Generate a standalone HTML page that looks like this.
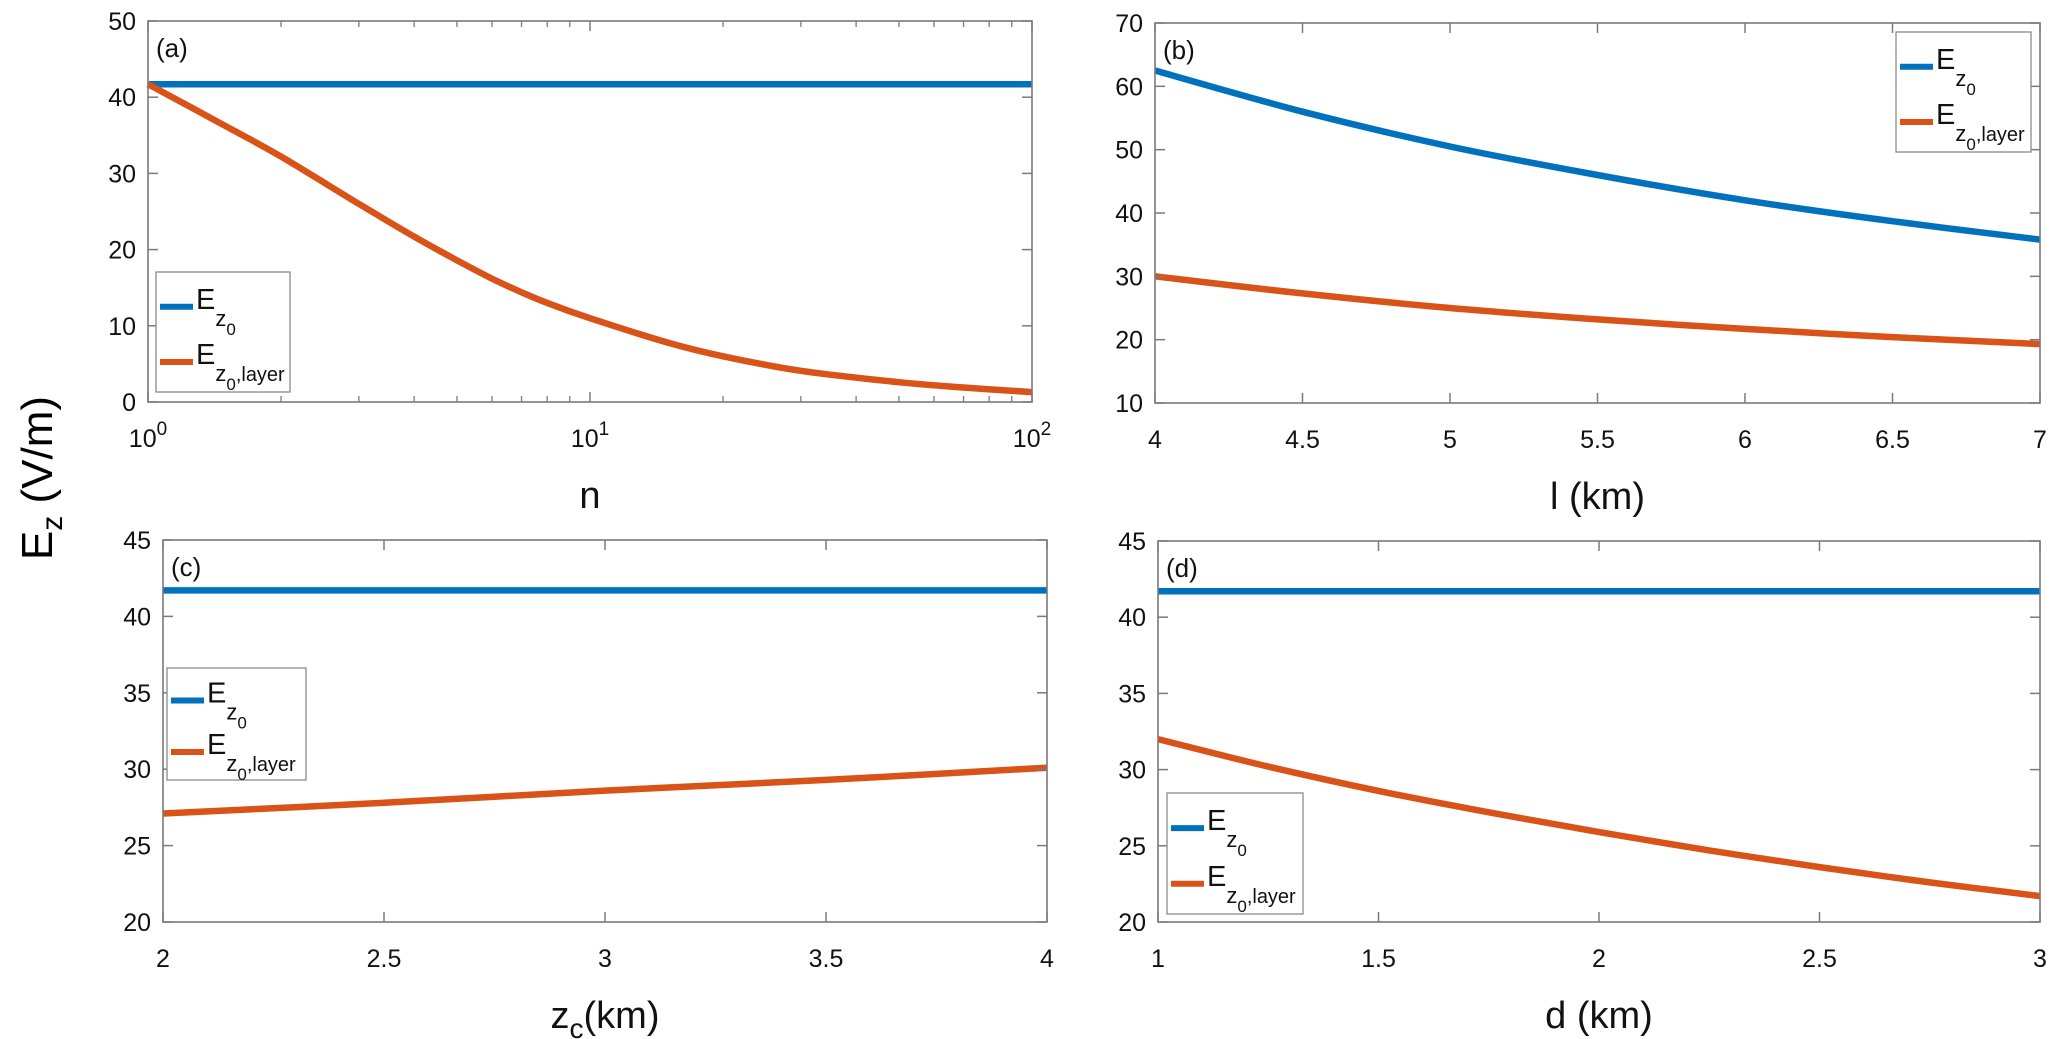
<!DOCTYPE html>
<html><head><meta charset="utf-8"><style>
html,body{margin:0;padding:0;background:#fff;}
svg{display:block;font-family:"Liberation Sans",Arial,sans-serif;}
</style></head><body>
<svg id="fig" width="2067" height="1039" viewBox="0 0 2067 1039" xmlns="http://www.w3.org/2000/svg">
<text transform="translate(52,478) rotate(-90)" text-anchor="middle" font-size="44">E<tspan font-size="30" dy="10">z</tspan><tspan dy="-10"> (V/m)</tspan></text>
</svg>
<script>
// ---- data ----
const aN = [1, 1.5, 2, 3, 4, 5, 6, 7, 8, 10, 15, 20, 30, 50, 70, 100];
const aEz0 = [41.7, 41.7, 41.7, 41.7, 41.7, 41.7, 41.7, 41.7, 41.7, 41.7, 41.7, 41.7, 41.7, 41.7, 41.7, 41.7];
const aLayer = [41.7, 36.2, 32.2, 26.0, 21.7, 18.6, 16.2, 14.4, 13.0, 11.0, 7.8, 6.0, 4.1, 2.6, 1.9, 1.3];
const bL = [4, 4.5, 5, 5.5, 6, 6.5, 7];
const bEz0 = [62.5, 56.0, 50.5, 46.0, 42.0, 38.7, 35.8];
const bLayer = [30.0, 27.3, 25.0, 23.2, 21.7, 20.4, 19.3];
const cZ = [2, 2.5, 3, 3.5, 4];
const cEz0 = [41.7, 41.7, 41.7, 41.7, 41.7];
const cLayer = [27.1, 27.8, 28.6, 29.3, 30.1];
const dD = [1, 1.25, 1.5, 1.75, 2, 2.25, 2.5, 2.75, 3];
const dEz0 = [41.7, 41.7, 41.7, 41.7, 41.7, 41.7, 41.7, 41.7, 41.7];
const dLayer = [32.0, 30.2, 28.6, 27.2, 25.9, 24.7, 23.6, 22.6, 21.7];
const aYTicks = [0, 10, 20, 30, 40, 50];
const bYTicks = [10, 20, 30, 40, 50, 60, 70];
const bXTicks = [4, 4.5, 5, 5.5, 6, 6.5, 7];
const cYTicks = [20, 25, 30, 35, 40, 45];
const cXTicks = [2, 2.5, 3, 3.5, 4];
const dYTicks = [20, 25, 30, 35, 40, 45];
const dXTicks = [1, 1.5, 2, 2.5, 3];
const aXTicks = [1, 10, 100];

const NS = "http://www.w3.org/2000/svg";
const svg = document.getElementById('fig');
const BLUE = "#0072BD", ORANGE = "#D95319", AX = "#7a7a7a";
function mk(tag, attrs, parent) { const e = document.createElementNS(NS, tag); for (const k in attrs) e.setAttribute(k, attrs[k]); (parent || svg).appendChild(e); return e; }

function smoothPath(pts) {
  let d = 'M' + pts[0][0].toFixed(1) + ' ' + pts[0][1].toFixed(1);
  for (let i = 0; i < pts.length - 1; i++) {
    const p0 = pts[Math.max(0, i - 1)], p1 = pts[i], p2 = pts[i + 1], p3 = pts[Math.min(pts.length - 1, i + 2)];
    const c1 = [p1[0] + (p2[0] - p0[0]) / 6, p1[1] + (p2[1] - p0[1]) / 6];
    const c2 = [p2[0] - (p3[0] - p1[0]) / 6, p2[1] - (p3[1] - p1[1]) / 6];
    d += ' C' + c1[0].toFixed(1) + ' ' + c1[1].toFixed(1) + ' ' + c2[0].toFixed(1) + ' ' + c2[1].toFixed(1) + ' ' + p2[0].toFixed(1) + ' ' + p2[1].toFixed(1);
  }
  return d;
}

function panel(cfg) {
  const g = mk('g', {});
  
  
  const {x0, x1, y0, y1} = cfg;
  const fx = cfg.log ? v => x0 + (Math.log10(v) - Math.log10(cfg.xmin)) / (Math.log10(cfg.xmax) - Math.log10(cfg.xmin)) * (x1 - x0)
                     : v => x0 + (v - cfg.xmin) / (cfg.xmax - cfg.xmin) * (x1 - x0);
  const fy = v => y1 - (v - cfg.ymin) / (cfg.ymax - cfg.ymin) * (y1 - y0);
  [[cfg.xs, cfg.s1, BLUE, 'series-ez0'], [cfg.xs, cfg.s2, ORANGE, 'series-ez0-layer']].forEach(([xs, ys, col, nm]) => {
    const pts = xs.map((v, i) => [fx(v), fy(ys[i])]);
    const p = mk('path', {d: smoothPath(pts), fill: 'none', stroke: col, 'stroke-width': 6.5, 'stroke-linejoin': 'round'}, g);
    
    
  });
  const box = mk('rect', {x: x0, y: y0, width: x1 - x0, height: y1 - y0, fill: 'none', stroke: AX, 'stroke-width': 1.6}, g);
  
  
  const TL = 10;
  cfg.yt.forEach(v => {
    const y = fy(v);
    mk('line', {x1: x0, x2: x0 + TL, y1: y, y2: y, stroke: AX, 'stroke-width': 1.5}, g);
    mk('line', {x1: x1, x2: x1 - TL, y1: y, y2: y, stroke: AX, 'stroke-width': 1.5}, g);
    const t = mk('text', {x: x0 - 12, y: y + 9, 'text-anchor': 'end', 'font-size': 25, fill: '#111'}, g);
    t.textContent = v;
    
    
  });
  if (cfg.log) {
    for (let dec = 1; dec < 100; dec *= 10) for (let m = 2; m <= 9; m++) {
      const x = fx(m * dec);
      mk('line', {x1: x, x2: x, y1: y1, y2: y1 - 6, stroke: AX, 'stroke-width': 1.3}, g);
      mk('line', {x1: x, x2: x, y1: y0, y2: y0 + 6, stroke: AX, 'stroke-width': 1.3}, g);
    }
  }
  cfg.xt.forEach((v, i) => {
    const x = fx(v);
    mk('line', {x1: x, x2: x, y1: y1, y2: y1 - TL, stroke: AX, 'stroke-width': 1.5}, g);
    mk('line', {x1: x, x2: x, y1: y0, y2: y0 + TL, stroke: AX, 'stroke-width': 1.5}, g);
    const t = mk('text', {x: x, y: y1 + 45, 'text-anchor': 'middle', 'font-size': 25, fill: '#111'}, g);
    if (cfg.log) { t.innerHTML = '10<tspan dy="-12" font-size="19">' + i + '</tspan>'; }
    else t.textContent = v;
    
    
  });
  const tag = mk('text', {x: x0 + 8, y: y0 + 36, 'font-size': 26, fill: '#111'}, g);
  tag.textContent = '(' + cfg.id + ')';
  
  
  const xl = mk('text', {x: (x0 + x1) / 2, y: y1 + 106, 'text-anchor': 'middle', 'font-size': 38, fill: '#111'}, g);
  xl.innerHTML = cfg.xlabel;
  
  
  const L = cfg.leg;
  const lg = mk('g', {}, g);
  
  
  mk('rect', {x: L[0], y: L[1], width: L[2] - L[0], height: L[3] - L[1], fill: '#fff', stroke: '#8a8a8a', 'stroke-width': 1.3}, lg);
  const h = L[3] - L[1];
  const e1y = L[1] + h * 0.29, e2y = L[1] + h * 0.75;
  [[e1y, BLUE, false], [e2y, ORANGE, true]].forEach(([yy, col, lay]) => {
    const le = mk('g', {}, lg);
    
    
    mk('line', {x1: L[0] + 4, x2: L[0] + 37, y1: yy, y2: yy, stroke: col, 'stroke-width': 6}, le);
    const t = mk('text', {x: L[0] + 40, y: yy + 2, 'font-size': 29, fill: '#111'}, le);
    t.innerHTML = 'E<tspan font-size="22" dy="17">z</tspan><tspan font-size="17" dy="9">0</tspan>' + (lay ? '<tspan font-size="20" dy="-9">,layer</tspan>' : '');
  });
}

panel({id: 'a', x0: 148, x1: 1032, y0: 21, y1: 402, log: true, xmin: 1, xmax: 100, ymin: 0, ymax: 50,
  xs: aN, s1: aEz0, s2: aLayer, yt: aYTicks, xt: aXTicks, xlabel: 'n', leg: [156, 272, 290, 392]});
panel({id: 'b', x0: 1155, x1: 2040, y0: 23, y1: 403, xmin: 4, xmax: 7, ymin: 10, ymax: 70,
  xs: bL, s1: bEz0, s2: bLayer, yt: bYTicks, xt: bXTicks, xlabel: 'l (km)', leg: [1896, 32, 2031, 152]});
panel({id: 'c', x0: 163, x1: 1047, y0: 540, y1: 922, xmin: 2, xmax: 4, ymin: 20, ymax: 45,
  xs: cZ, s1: cEz0, s2: cLayer, yt: cYTicks, xt: cXTicks, xlabel: 'z<tspan font-size="28" dy="10">c</tspan><tspan dy="-10">(km)</tspan>', leg: [167, 668, 306, 780]});
panel({id: 'd', x0: 1158, x1: 2040, y0: 541, y1: 922, xmin: 1, xmax: 3, ymin: 20, ymax: 45,
  xs: dD, s1: dEz0, s2: dLayer, yt: dYTicks, xt: dXTicks, xlabel: 'd (km)', leg: [1167, 793, 1303, 914]});
</script>
</body></html>
